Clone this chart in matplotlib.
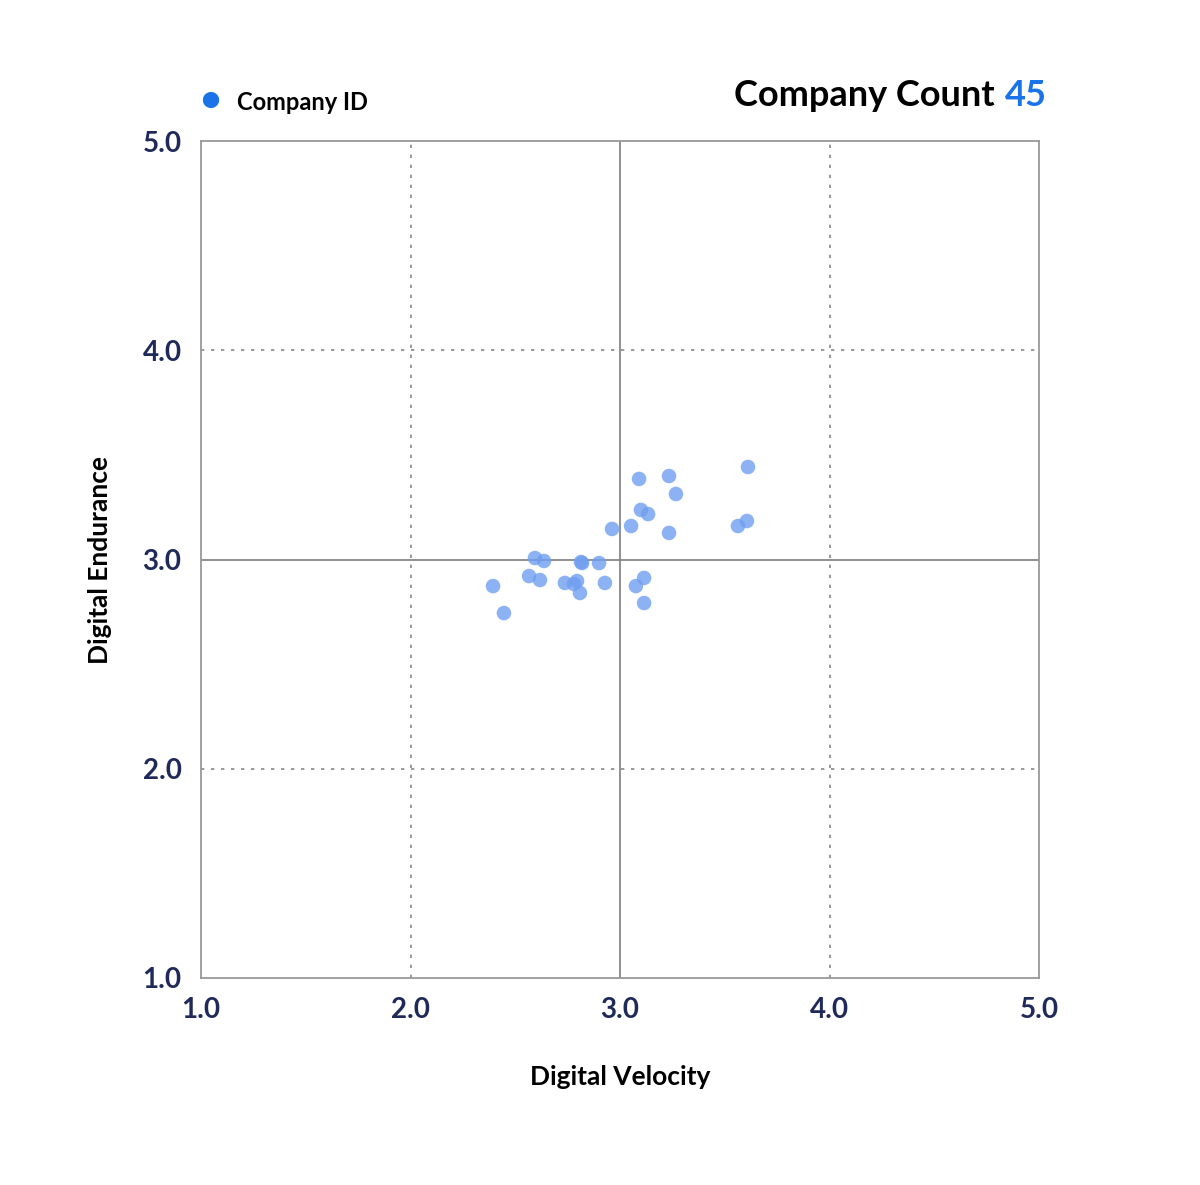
import matplotlib.pyplot as plt

plt.rcParams['font.family'] = ['Lato', 'DejaVu Sans']

velocity = [2.394, 2.446, 2.566, 2.618, 2.594, 2.637, 2.737, 2.780, 2.795, 2.809,
            2.814, 2.819, 2.900, 2.928, 2.962, 3.053, 3.091, 3.100, 3.134, 3.234,
            3.267, 3.234, 3.076, 3.115, 3.115, 3.563, 3.606, 3.611]
endurance = [2.873, 2.744, 2.921, 2.902, 3.007, 2.993, 2.888, 2.883, 2.897, 2.840,
             2.988, 2.983, 2.983, 2.888, 3.146, 3.160, 3.385, 3.237, 3.217, 3.399,
             3.313, 3.127, 2.873, 2.912, 2.792, 3.160, 3.184, 3.442]
ticks = [1.0, 2.0, 3.0, 4.0, 5.0]
company_count = 45

navy = "#1f2a5a"
fig = plt.figure(figsize=(12, 11.85), dpi=100)
ax = fig.add_axes([201 / 1200, 1 - 978 / 1185, 838 / 1200, 837 / 1185])

ax.scatter(velocity, endurance, s=110, color="#6f9ff0", alpha=0.8, edgecolors="none", zorder=3)

for v in [2.0, 4.0]:
    ax.axvline(v, color="#888888", lw=1.2, ls=(0, (2, 4)), zorder=1)
    ax.axhline(v, color="#888888", lw=1.2, ls=(0, (2, 4)), zorder=1)
ax.axvline(3.0, color="#888888", lw=1.3, zorder=1)
ax.axhline(3.0, color="#888888", lw=1.3, zorder=1)

ax.set_xlim(1, 5)
ax.set_ylim(1, 5)
ax.set_xticks(ticks)
ax.set_yticks(ticks)
ax.set_xticklabels([f"{t:.1f}" for t in ticks])
ax.set_yticklabels([f"{t:.1f}" for t in ticks])
ax.tick_params(length=0, labelsize=20, labelcolor=navy, pad=14)
for lbl in ax.get_xticklabels() + ax.get_yticklabels():
    lbl.set_fontweight("bold")
for s in ax.spines.values():
    s.set_color("#999999")
    s.set_linewidth(1.3)

ax.set_xlabel("Digital Velocity", fontsize=19, fontweight="bold", labelpad=30)
ax.set_ylabel("Digital Endurance", fontsize=19, fontweight="bold", labelpad=22)

fig.text(210 / 1200, 1 - 101 / 1185, "\u25CF", color="#1a73e8", fontsize=24, va="center", ha="center")
fig.text(237 / 1200, 1 - 102 / 1185, "Company ID", fontsize=17, fontweight="bold", va="center")
fig.text(995 / 1200, 1 - 96 / 1185, "Company Count", fontsize=26, fontweight="bold", va="center", ha="right")
fig.text(1005 / 1200, 1 - 96 / 1185, str(company_count), fontsize=26, fontweight="bold",
         color="#1a73e8", va="center", ha="left")

fig.savefig("out.png")
